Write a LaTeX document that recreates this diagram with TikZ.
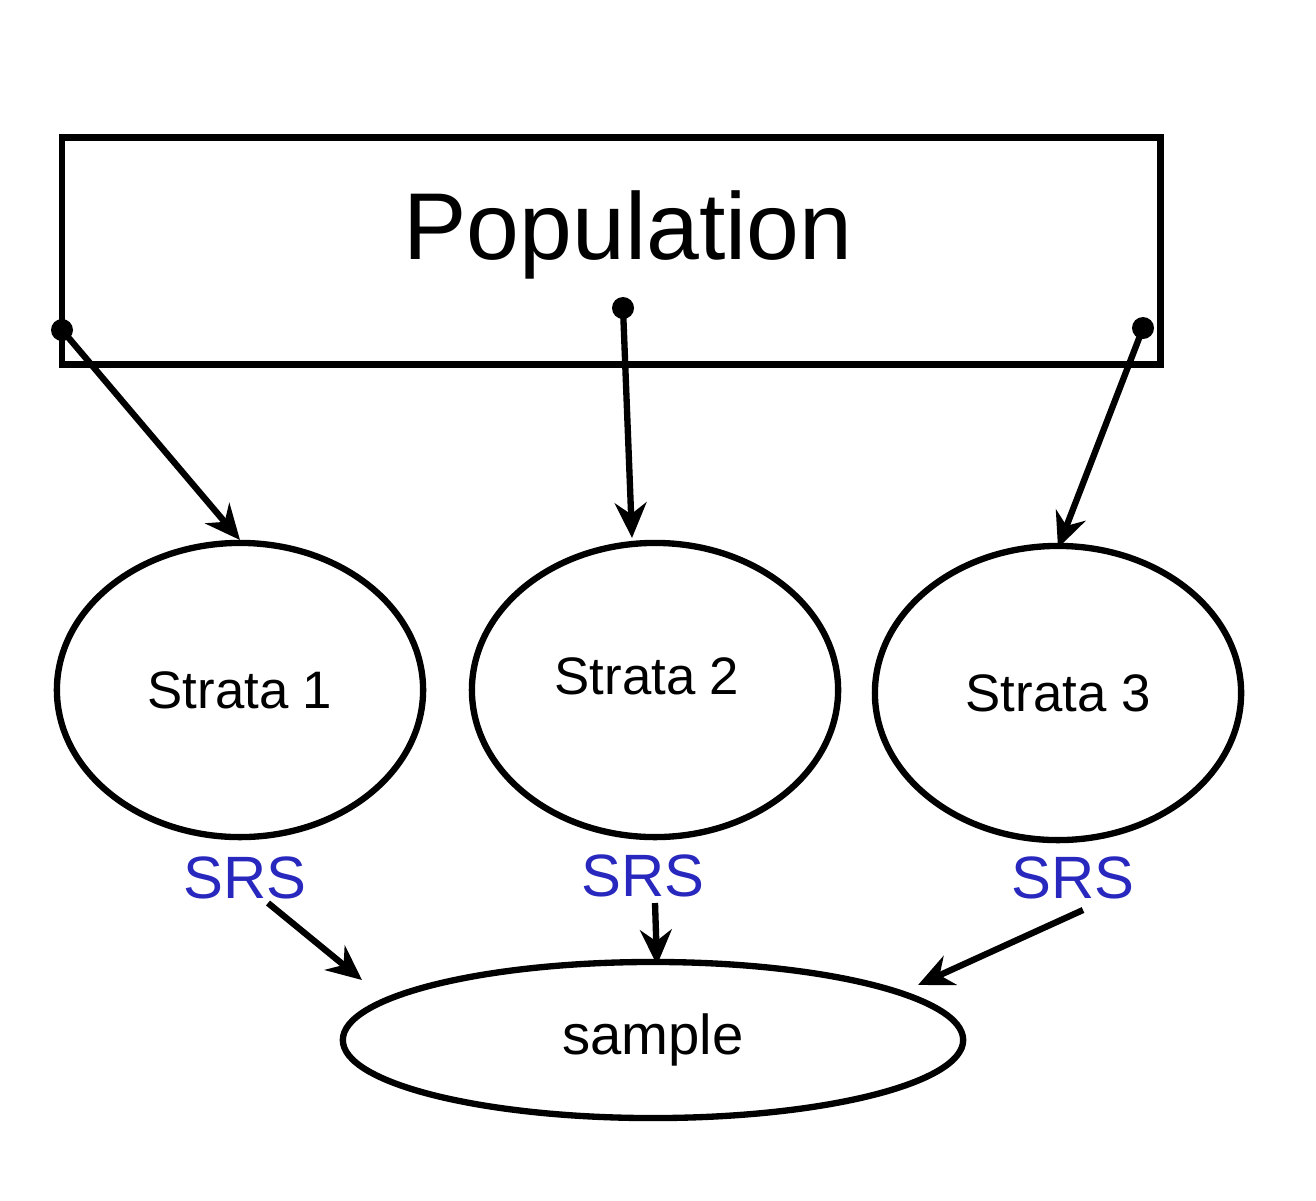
\documentclass[tikz,border=0pt]{standalone}
\usepackage{fontspec}
\setmainfont{Liberation Sans}
\usetikzlibrary{shapes.geometric,arrows.meta}
\definecolor{srsblue}{RGB}{40,40,190}
\begin{document}
\begin{tikzpicture}[x=0.01cm,y=-0.01cm,line width=1.8pt,
	strata/.style ={ellipse, draw, minimum width=3.66cm, minimum height=2.94cm, font=\fontsize{15}{18}\selectfont},
	srs/.style ={text=srsblue, font=\fontsize{17}{19}\selectfont},
	link/.style ={-{Stealth[length=10pt,width=9pt]}}]
		\useasboundingbox (0,0) rectangle (1316,1200);
		\node[draw, minimum width=10.98cm, minimum height=2.27cm] (pop) at (611,251) {};
		\node[font=\fontsize{27}{30}\selectfont] (poptext) at (628,235) {Population};
		\node[strata] (s1) at (240,690) {Strata 1};
		\node[strata] (s2) at (655,690) {};
		\node[font=\fontsize{15}{18}\selectfont] (s2text) at (647,676) {Strata 2};
		\node[strata] (s3) at (1058,693) {Strata 3};
		\node[ellipse, draw, minimum width=6.2cm, minimum height=1.56cm, font=\fontsize{16}{18}\selectfont] (sample) at (653,1040) {sample};
		\node[srs] (srs1) at (245,878) {SRS};
		\node[srs] (srs2) at (643,876) {SRS};
		\node[srs] (srs3) at (1073,878) {SRS};
		\coordinate (d1) at (62,330);
		\coordinate (d2) at (623,308);
		\coordinate (d3) at (1143,328);
		\fill (d1) circle (11);
		\fill (d2) circle (11);
		\fill (d3) circle (11);
		\draw[link] (d1)--(240,540);
		\draw[link] (d2)--(632,538);
		\draw[link] (d3)--(1058,548);
		\coordinate (e1) at (268,903);
		\coordinate (e2) at (655,903);
		\coordinate (e3) at (1083,910);
		\draw[link] (e1)--(362,980);
		\draw[link] (e2)--(657,965);
		\draw[link] (e3)--(918,985);
	\end{tikzpicture}
\end{document}
